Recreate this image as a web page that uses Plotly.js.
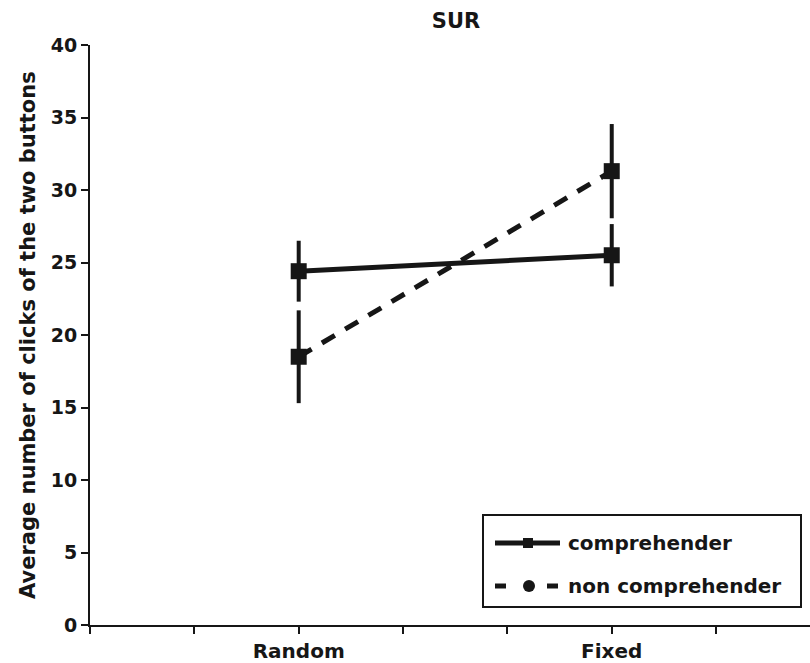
<!DOCTYPE html>
<html>
<head>
<meta charset="utf-8">
<script src="https://cdn.plot.ly/plotly-3.0.1.min.js"></script>
<style>html,body{margin:0;padding:0;background:#fff;}#chart{width:810px;height:663px;}</style>
</head>
<body>
<div id="chart"></div>
<script>
// ---- data ----
const categories = ["Random", "Fixed"];
const comprehender = [24.4, 25.5];
const comprehenderErr = [2.1, 2.15];
const nonComprehender = [18.5, 31.3];
const nonComprehenderErr = [3.2, 3.25];
const seriesNames = ["comprehender", "non comprehender"];
const yTicks = [0, 5, 10, 15, 20, 25, 30, 35, 40];

// category slots on the x axis (two labelled slots among evenly spaced ticks)
const slotOf = {"Random": 2, "Fixed": 5};
const xs = categories.map(c => slotOf[c]);
const tickVals = [0, 1, 2, 3, 4, 5, 6, 7];
const tickText = tickVals.map(v => {
  const c = categories.find(k => slotOf[k] === v);
  return c ? c : "";
});

const FONT = "DejaVu Sans, Arial, sans-serif";
const INK = "#161616";

const traces = [
  {
    x: xs, y: comprehender, name: seriesNames[0], type: "scatter", mode: "lines+markers",
    line: {color: INK, width: 5},
    marker: {symbol: "square", size: 16, color: INK},
    error_y: {type: "data", array: comprehenderErr, visible: true, color: INK, thickness: 4, width: 0},
    showlegend: false
  },
  {
    x: xs, y: nonComprehender, name: seriesNames[1], type: "scatter", mode: "lines+markers",
    line: {color: INK, width: 5, dash: "15px,12px"},
    marker: {symbol: "square", size: 16, color: INK},
    error_y: {type: "data", array: nonComprehenderErr, visible: true, color: INK, thickness: 4, width: 0},
    showlegend: false
  }
];

// plot area in pixels: left 90, right 810, top 45, bottom 625
const L = 90, R = 810, T = 45, B = 625;
const px = x => (x - L) / (R - L);
const py = y => (B - y) / (B - T);

const shapes = [
  // legend box
  {type: "rect", xref: "paper", yref: "paper", x0: px(483), x1: px(801), y0: py(607), y1: py(515),
   line: {color: INK, width: 2}, fillcolor: "#ffffff", layer: "above"},
  // comprehender sample
  {type: "line", xref: "paper", yref: "paper", x0: px(495), x1: px(560), y0: py(543), y1: py(543),
   line: {color: INK, width: 5}, layer: "above"},
  {type: "rect", xref: "paper", yref: "paper", x0: px(523), x1: px(533), y0: py(548), y1: py(538),
   line: {color: INK, width: 0}, fillcolor: INK, layer: "above"},
  // non comprehender sample
  {type: "line", xref: "paper", yref: "paper", x0: px(495), x1: px(506), y0: py(586), y1: py(586),
   line: {color: INK, width: 5}, layer: "above"},
  {type: "circle", xref: "paper", yref: "paper", x0: px(523), x1: px(535), y0: py(592), y1: py(580),
   line: {color: INK, width: 0}, fillcolor: INK, layer: "above"},
  {type: "line", xref: "paper", yref: "paper", x0: px(547), x1: px(558), y0: py(586), y1: py(586),
   line: {color: INK, width: 5}, layer: "above"}
];

const annotations = [
  {xref: "paper", yref: "paper", x: px(566), y: py(543), xanchor: "left", yanchor: "middle",
   text: seriesNames[0], showarrow: false, font: {family: FONT, size: 20, color: INK, weight: "bold"}},
  {xref: "paper", yref: "paper", x: px(566), y: py(586), xanchor: "left", yanchor: "middle",
   text: seriesNames[1], showarrow: false, font: {family: FONT, size: 20, color: INK, weight: "bold"}},
  {xref: "paper", yref: "paper", x: px(28), y: py(335), xanchor: "center", yanchor: "middle",
   textangle: -90, text: "<b>Average number of clicks of the two buttons</b>", showarrow: false,
   font: {family: FONT, size: 21, color: INK}}
];

const layout = {
  width: 810, height: 663,
  margin: {l: L, r: 810 - R, t: T, b: 663 - B},
  paper_bgcolor: "#ffffff", plot_bgcolor: "#ffffff",
  font: {family: FONT, color: INK},
  title: {text: "<b>SUR</b>", font: {family: FONT, size: 21, color: INK},
          x: px(456), xref: "paper", y: 1 - 21 / 663, yanchor: "middle"},
  xaxis: {
    range: [0, 6.9], tickmode: "array", tickvals: tickVals, ticktext: tickText,
    showline: true, linecolor: INK, linewidth: 2, ticks: "outside", ticklen: 7,
    tickwidth: 2, tickcolor: INK, showgrid: false, zeroline: false,
    tickfont: {family: FONT, size: 20, color: INK, weight: "bold"}
  },
  yaxis: {
    range: [0, 40], tickmode: "array", tickvals: yTicks,
    showline: true, linecolor: INK, linewidth: 2, ticks: "outside", ticklen: 7,
    tickwidth: 2, tickcolor: INK, showgrid: false, zeroline: false,
    tickfont: {family: FONT, size: 19, color: INK, weight: "bold"}
  },
  shapes: shapes,
  annotations: annotations,
  showlegend: false
};

Plotly.newPlot("chart", traces, layout, {displayModeBar: false, staticPlot: true});
</script>
</body>
</html>
